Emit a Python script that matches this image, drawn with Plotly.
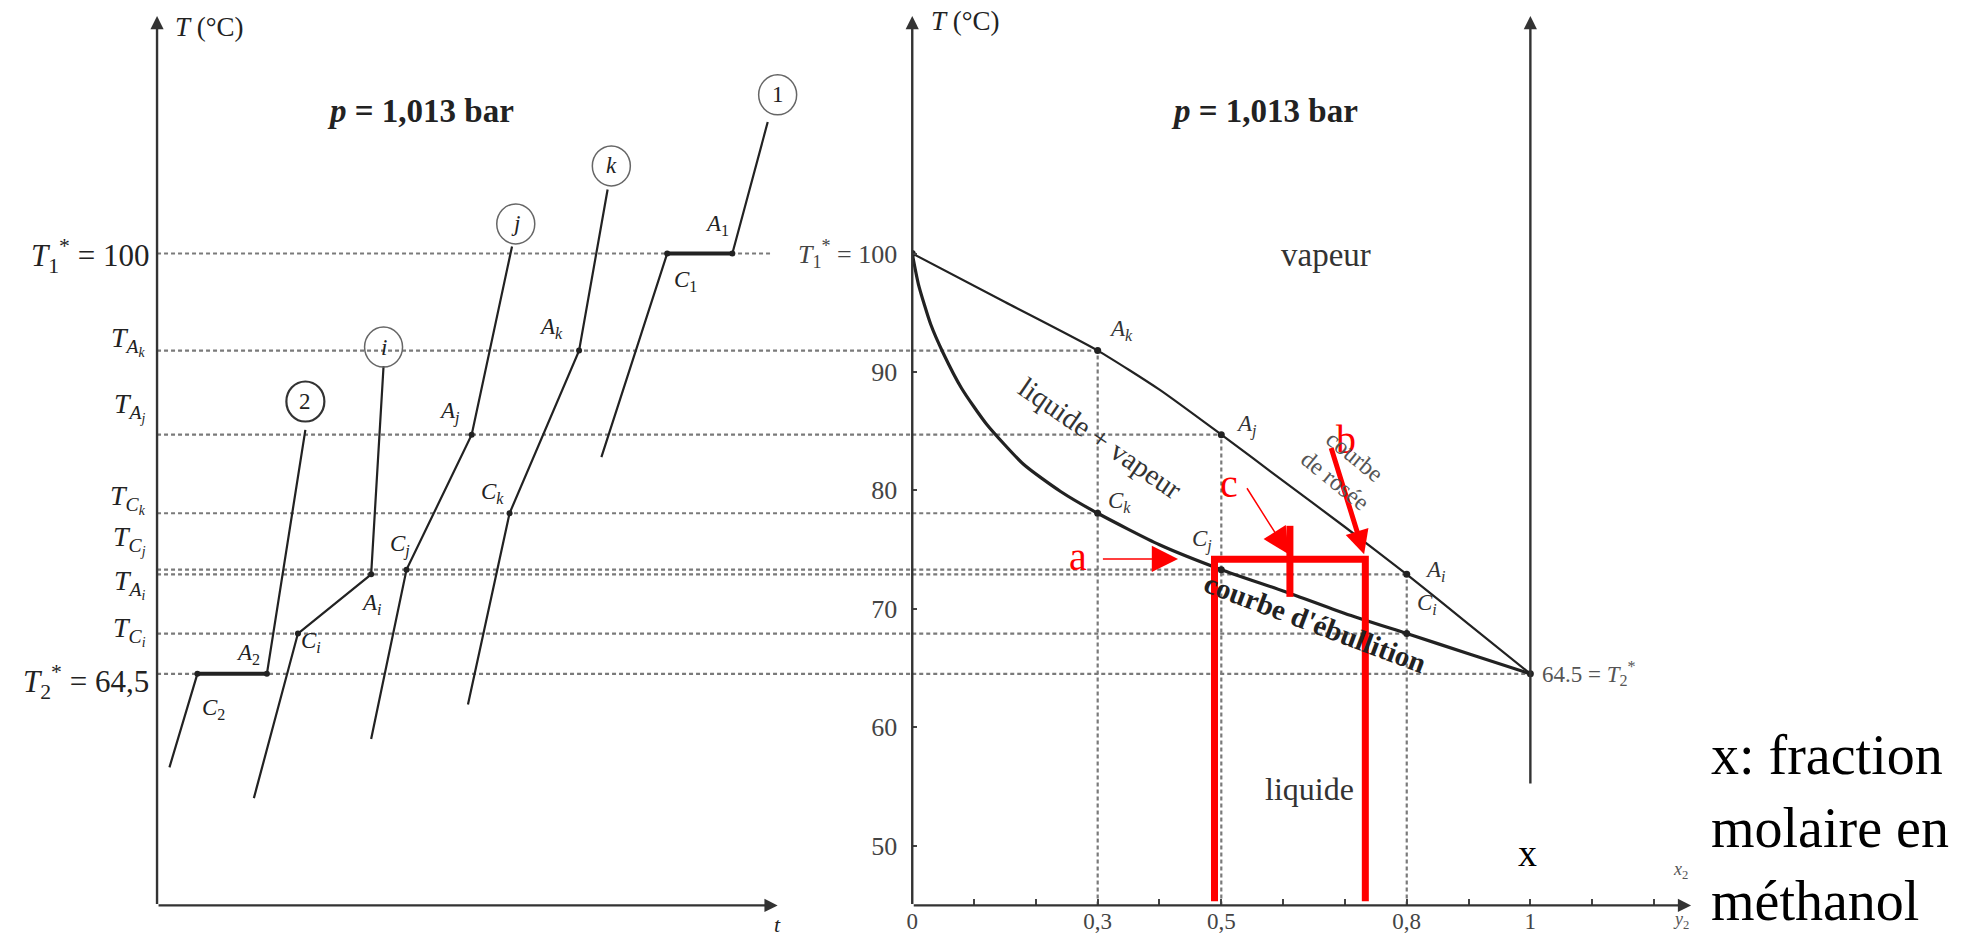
import plotly.graph_objects as go

# ---------------- data ----------------
# Right panel: isobaric T-x diagram water / methanol, p = 1,013 bar
x_boil = [0, 0.01, 0.03, 0.05, 0.08, 0.12, 0.18, 0.24, 0.30, 0.40, 0.50, 0.60, 0.70, 0.80, 0.90, 1.0]
T_boil = [100, 97.4, 94.0, 91.6, 88.6, 85.6, 82.2, 79.9, 78.06, 75.4, 73.3, 71.5, 69.6, 67.9, 66.2, 64.5]
y_dew = [0, 0.15, 0.30, 0.40, 0.50, 0.60, 0.70, 0.80, 0.90, 1.0]
T_dew = [100, 95.9, 91.8, 88.5, 84.7, 80.8, 76.9, 72.9, 68.7, 64.5]

pt_x = [0.3, 0.5, 0.8]            # compositions k, j, i
T_A = [91.8, 84.7, 72.9]          # A_k, A_j, A_i (dew points)
T_C = [78.06, 73.3, 67.9]         # C_k, C_j, C_i (bubble points)
T1_star = 100.0
T2_star = 64.5

# horizontal reading lines (T level, composition where they end on the right panel)
lvl_T = [T_A[0], T_A[1], T_C[0], T_C[1], T_A[2], T_C[2], T2_star]
lvl_x = [pt_x[0], pt_x[1], pt_x[0], pt_x[1], pt_x[2], pt_x[2], 1.0]

# Left panel: cooling curves T(t) (t in arbitrary units)
t_c2 = [2.0, 6.5, 17.7, 23.9];   T_c2 = [56.6, T2_star, T2_star, 85.1]
t_ci = [15.6, 22.7, 34.5, 36.5]; T_ci = [54.0, T_C[2], T_A[2], 90.5]
t_cj = [34.5, 40.2, 50.7, 57.2]; T_cj = [59.0, T_C[1], T_A[1], 100.6]
t_ck = [50.1, 56.8, 68.0, 72.6]; T_ck = [61.9, T_C[0], T_A[0], 105.4]
t_c1 = [71.6, 82.2, 92.7, 98.4]; T_c1 = [82.8, T1_star, T1_star, 111.1]

circ_t = [23.9, 36.5, 57.8, 73.2, 100.0]
circ_T = [87.5, 92.1, 102.5, 107.4, 113.4]
circ_lab = ["2", "<i>i</i>", "<i>j</i>", "<i>k</i>", "1"]

# red construction on the right panel
red_x = [0.489, 0.489, 0.733, 0.733]
red_T = [45.3, 74.17, 74.17, 45.3]
red_short_x = [0.611, 0.611]
red_short_T = [77.0, 71.0]

x_ticks = [0, 0.1, 0.2, 0.3, 0.4, 0.5, 0.6, 0.7, 0.8, 0.9, 1.0, 1.1, 1.2]
x_ticktext = ["0", "", "", "0,3", "", "0,5", "", "", "0,8", "", "1", "", ""]
T_ticks = [50, 60, 70, 80, 90, 100]
T_ticktext = ["50", "60", "70", "80", "90", "<i>T</i><sub>1</sub><sup>*</sup> = 100"]

# ---------------- geometry (pixels) ----------------
W, H = 1980, 937
PX_T = 11.84          # px per °C
Y100 = 253.5          # pixel row of 100 °C
PX_t = 6.225          # px per time unit (left)
X0_L = 151.5          # left time axis origin
X0_R = 909.0          # right x=0
PX_x = 620.0          # px per mole-fraction unit
Y_AXIS = 905.4        # pixel row of both horizontal axes

T_lo = 100 - (H - Y100) / PX_T
T_hi = 100 + Y100 / PX_T
T_axis = 100 - (Y_AXIS - Y100) / PX_T
T_top = 120.06

SERIF = "Liberation Serif"
INK = "#222222"
GREY = "#555555"
DASH = "#7a7a7a"

fig = go.Figure()

def line(x, y, xa, color=INK, width=2, dash=None, shape="linear", smoothing=None):
    ln = dict(color=color, width=width, dash=dash, shape=shape)
    if smoothing is not None:
        ln["smoothing"] = smoothing
    fig.add_trace(go.Scatter(x=x, y=y, xaxis=xa, yaxis="y", mode="lines", line=ln,
                             hoverinfo="skip", showlegend=False))

# dashed reading lines: left panel part + right panel part
line([0, 98.9], [T1_star, T1_star], "x", color=DASH, width=2.2, dash="4px,3px")
for T, xe in zip(lvl_T, lvl_x):
    line([0, 130], [T, T], "x", color=DASH, width=2.2, dash="4px,3px")
    line([0, xe], [T, T], "x2", color=DASH, width=2.2, dash="4px,3px")
# vertical dashed lines on the right panel
for xv, Tv in zip(pt_x, T_A):
    line([xv, xv], [T_axis, Tv], "x2", color=DASH, width=2.2, dash="4px,3px")

# cooling curves
for tt, TT in [(t_c2, T_c2), (t_ci, T_ci), (t_cj, T_cj), (t_ck, T_ck), (t_c1, T_c1)]:
    line(tt, TT, "x", width=2.2)
# plateaus of the pure bodies (thicker)
line(t_c2[1:3], T_c2[1:3], "x", width=4)
line(t_c1[1:3], T_c1[1:3], "x", width=4)
# break-points
bp_t = [t_c2[1], t_c2[2], t_ci[1], t_ci[2], t_cj[1], t_cj[2], t_ck[1], t_ck[2], t_c1[1], t_c1[2]]
bp_T = [T_c2[1], T_c2[2], T_ci[1], T_ci[2], T_cj[1], T_cj[2], T_ck[1], T_ck[2], T_c1[1], T_c1[2]]
fig.add_trace(go.Scatter(x=bp_t, y=bp_T, xaxis="x", yaxis="y", mode="markers",
                         marker=dict(color=INK, size=6), hoverinfo="skip", showlegend=False))

# right panel curves
line(y_dew, T_dew, "x2", width=2.2, shape="spline", smoothing=0.6)
line(x_boil, T_boil, "x2", width=3.2, shape="spline", smoothing=0.6)
fig.add_trace(go.Scatter(x=pt_x + pt_x + [0, 1], y=T_A + T_C + [T1_star, T2_star],
                         xaxis="x2", yaxis="y", mode="markers",
                         marker=dict(color=INK, size=7), hoverinfo="skip", showlegend=False))

# red construction
line(red_x, red_T, "x2", color="#ff0000", width=7)
line(red_short_x, red_short_T, "x2", color="#ff0000", width=7)

ann = []
def text(x, y, s, xref="x2", size=22, color=INK, angle=0, xanchor="center", yanchor="middle", **kw):
    ann.append(dict(x=x, y=y, xref=xref, yref="y", text=s, showarrow=False, textangle=angle,
                    font=dict(family=SERIF, size=size, color=color),
                    xanchor=xanchor, yanchor=yanchor, **kw))

def arrow(x0, y0, x1, y1, xref, color=INK, width=2.4, size=1.1, head=2):
    ann.append(dict(x=x1, y=y1, ax=x0, ay=y0, xref=xref, yref="y", axref=xref, ayref="y",
                    text="", showarrow=True, arrowhead=head, arrowsize=size, arrowwidth=width,
                    arrowcolor=color, standoff=0, startstandoff=0))

# axes drawn as arrows
arrow(0, T_axis, 0, T_top, "x", color="#333333")
arrow(0, T_axis, 100, T_axis, "x", color="#333333")
arrow(0, T_axis, 0, T_top, "x2", color="#333333")
arrow(0, T_axis, 1.26, T_axis, "x2", color="#333333")
arrow(1, 55.1, 1, T_top, "x2", color="#333333")

# red arrows
arrow(0.306, 74.2, 0.430, 74.2, "x2", color="#ff0000", width=1.5, size=3.5)
arrow(0.540, 80.3, 0.609, 74.6, "x2", color="#ff0000", width=1.5, size=3.5)
arrow(0.677, 83.7, 0.731, 74.6, "x2", color="#ff0000", width=5, size=0.95)
text(0.2686, 74.4, "a", size=40, color="#ff0000")
text(0.512, 80.6, "c", size=40, color="#ff0000")
text(0.701, 84.3, "b", size=40, color="#ff0000")

# ---- left panel texts ----
text(2.6, 119.1, "<i>T</i> (°C)", xref="x", size=27, xanchor="left")
text(42.5, 112.0, "<b><i>p</i> = 1,013 bar</b>", xref="x", size=33)
text(-1.0, 99.8, "<i>T</i><sub>1</sub><sup>*</sup> = 100", xref="x", size=31, xanchor="right")
text(-1.0, 63.8, "<i>T</i><sub>2</sub><sup>*</sup> = 64,5", xref="x", size=31, xanchor="right")
lab_T = [92.6, 87.0, 79.3, 75.8, 72.1, 68.1]
lab_s = ["<i>T</i><sub><i>A</i><sub><i>k</i></sub></sub>",
         "<i>T</i><sub><i>A</i><sub><i>j</i></sub></sub>",
         "<i>T</i><sub><i>C</i><sub><i>k</i></sub></sub>",
         "<i>T</i><sub><i>C</i><sub><i>j</i></sub></sub>",
         "<i>T</i><sub><i>A</i><sub><i>i</i></sub></sub>",
         "<i>T</i><sub><i>C</i><sub><i>i</i></sub></sub>"]
for Tl, s in zip(lab_T, lab_s):
    text(-1.5, Tl, s, xref="x", size=28, xanchor="right")
pl_t = [14.6, 9.1, 24.8, 34.5, 39.2, 47.1, 54.0, 63.5, 85.2, 90.3]
pl_T = [66.2, 61.5, 67.2, 70.4, 75.3, 86.6, 79.8, 93.7, 97.7, 102.4]
pl_s = ["<i>A</i><sub>2</sub>", "<i>C</i><sub>2</sub>", "<i>C<sub>i</sub></i>", "<i>A<sub>i</sub></i>",
        "<i>C<sub>j</sub></i>", "<i>A<sub>j</sub></i>", "<i>C<sub>k</sub></i>", "<i>A<sub>k</sub></i>",
        "<i>C</i><sub>1</sub>", "<i>A</i><sub>1</sub>"]
for a, b, s in zip(pl_t, pl_T, pl_s):
    text(a, b, s, xref="x", size=23)
for a, b, s in zip(circ_t, circ_T, circ_lab):
    text(a, b, s, xref="x", size=23)
text(100.0, 43.3, "<i>t</i>", xref="x", size=22)

# ---- right panel texts ----
text(0.027, 119.6, "<i>T</i> (°C)", size=27, xanchor="left")
text(0.570, 112.0, "<b><i>p</i> = 1,013 bar</b>", size=33)
text(0.669, 99.9, "vapeur", size=33, color="#333333")
text(0.642, 54.8, "liquide", size=32, color="#333333")
text(0.304, 84.4, "liquide + vapeur", size=29, color="#333333", angle=34.5)
text(0.700, 81.8, "courbe<br>de rosée", size=24, color=GREY, angle=39)
text(0.652, 68.8, "<b>courbe d'ébullition</b>", size=29, color=INK, angle=20.6)
rl_x = [0.337, 0.540, 0.846, 0.335, 0.469, 0.832]
rl_T = [93.5, 85.5, 73.2, 79.0, 75.8, 70.4]
rl_s = ["<i>A<sub>k</sub></i>", "<i>A<sub>j</sub></i>", "<i>A<sub>i</sub></i>",
        "<i>C<sub>k</sub></i>", "<i>C<sub>j</sub></i>", "<i>C<sub>i</sub></i>"]
for a, b, s in zip(rl_x, rl_T, rl_s):
    text(a, b, s, size=23, color="#333333")
text(1.016, T2_star, "64.5 = <i>T</i><sub>2</sub><sup>*</sup>", size=23, color=GREY, xanchor="left")
text(0.995, 49.4, "x", size=38, color="#000000")
text(1.243, 47.9, "<i>x</i><sub>2</sub>", size=18, color=GREY)
text(1.243, 43.7, "<i>y</i><sub>2</sub>", size=18, color=GREY)
text(1.289, 51.5, "x: fraction<br>molaire en<br>méthanol", size=56, color="#000000",
     xanchor="left", align="left")

# circles around curve numbers
shapes = []
for a, b, s in zip(circ_t, circ_T, circ_lab):
    shapes.append(dict(type="circle", xref="x", yref="y", xsizemode="pixel", ysizemode="pixel",
                       xanchor=a, yanchor=b, x0=-19, x1=19, y0=-20, y1=20,
                       line=dict(color="#333333" if s == "2" else "#666666",
                                 width=2.2 if s == "2" else 1.5)))

fig.update_layout(
    width=W, height=H, autosize=False,
    margin=dict(l=0, r=0, t=0, b=0),
    paper_bgcolor="white", plot_bgcolor="white",
    showlegend=False,
    annotations=ann, shapes=shapes,
    xaxis=dict(domain=[0, X0_R / W], range=[-X0_L / PX_t, (X0_R - X0_L) / PX_t],
               visible=False, fixedrange=True),
    xaxis2=dict(domain=[X0_R / W, 1], range=[0, (W - X0_R) / PX_x],
                anchor="free", position=(H - Y_AXIS) / H,
                showgrid=False, zeroline=False, showline=False,
                tickmode="array", tickvals=x_ticks, ticktext=x_ticktext,
                ticks="inside", ticklen=6, tickwidth=2, tickcolor="#444444",
                ticklabelstandoff=0,
                tickfont=dict(family=SERIF, size=23, color="#444444"), fixedrange=True),
    yaxis=dict(domain=[0, 1], range=[T_lo, T_hi], anchor="x2",
               showgrid=False, zeroline=False, showline=False,
               tickmode="array", tickvals=T_ticks, ticktext=T_ticktext,
               ticks="inside", ticklen=5, tickwidth=2, tickcolor="#444444",
               ticklabelstandoff=14,
               tickfont=dict(family=SERIF, size=26, color="#444444"), fixedrange=True),
)

fig.write_html("out.html", config={"displayModeBar": False},
               post_script="document.body.style.margin='0';document.body.style.overflow='hidden';")
